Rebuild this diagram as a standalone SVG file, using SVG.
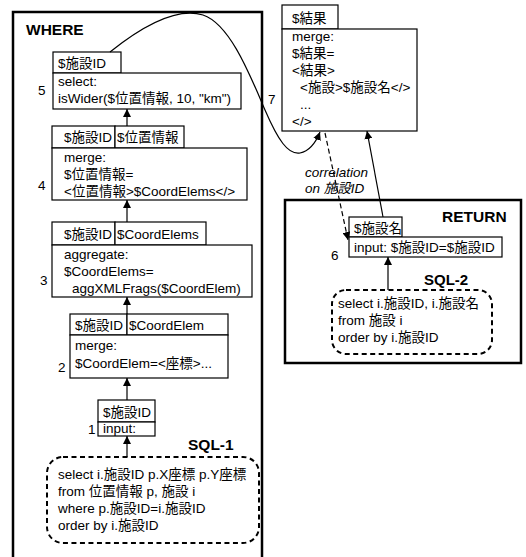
<svg xmlns="http://www.w3.org/2000/svg" width="526" height="557" viewBox="0 0 526 557">
<defs>
<style>
text{font-family:"Liberation Sans","Noto Sans CJK JP",Arial,sans-serif;font-size:13.5px;fill:#000}
.b{font-weight:bold;font-size:15.5px}
.i{font-style:italic}
.box{fill:#fff;stroke:#000;stroke-width:1.2}
.frame{fill:none;stroke:#000;stroke-width:2.5}
.dash{fill:none;stroke:#000;stroke-width:2;stroke-dasharray:5,3.5}
.ln{fill:none;stroke:#000;stroke-width:1.2}
</style>
<marker id="ah" viewBox="0 0 10 10" refX="10" refY="5" markerWidth="8" markerHeight="8" markerUnits="userSpaceOnUse" orient="auto">
<path d="M0,0 L10,5 L0,10 z" fill="#000"/>
</marker>
</defs>

<g id="frame-where">
<rect class="frame" x="13" y="12" width="249" height="560"/>
<text class="b" x="26" y="35">WHERE</text>
</g>

<g id="frame-return">
<rect class="frame" x="285" y="200" width="236" height="163"/>
<text class="b" x="442" y="222">RETURN</text>
</g>

<g id="node5">
<rect class="box" x="53" y="52" width="68" height="21"/>
<rect class="box" x="53" y="73" width="188" height="36"/>
<text x="58" y="68">$施設ID</text>
<text x="58" y="86">select:</text>
<text x="58" y="103">isWider($位置情報, 10, "km")</text>
<text x="38" y="95">5</text>
</g>

<g id="node4">
<rect class="box" x="52" y="126" width="63" height="22"/>
<rect class="box" x="115" y="126" width="69" height="22"/>
<rect class="box" x="52" y="148" width="195" height="52"/>
<text x="64" y="142">$施設ID</text>
<text x="117" y="142">$位置情報</text>
<text x="64" y="162">merge:</text>
<text x="64" y="179">$位置情報=</text>
<text x="64" y="196">&lt;位置情報&gt;$CoordElems&lt;/&gt;</text>
<text x="38" y="190">4</text>
</g>

<g id="node3">
<rect class="box" x="52" y="222" width="63" height="23"/>
<rect class="box" x="115" y="222" width="91" height="23"/>
<rect class="box" x="52" y="245" width="200" height="52"/>
<text x="64" y="239">$施設ID</text>
<text x="117" y="239">$CoordElems</text>
<text x="64" y="259">aggregate:</text>
<text x="64" y="276">$CoordElems=</text>
<text x="72" y="293">aggXMLFrags($CoordElem)</text>
<text x="40" y="285">3</text>
</g>

<g id="node2">
<rect class="box" x="70" y="314" width="57" height="21"/>
<rect class="box" x="127" y="314" width="101" height="21"/>
<rect class="box" x="70" y="335" width="158" height="43"/>
<text x="75" y="330">$施設ID</text>
<text x="129" y="330">$CoordElem</text>
<text x="75" y="350">merge:</text>
<text x="75" y="368">$CoordElem=&lt;座標&gt;...</text>
<text x="58" y="372">2</text>
</g>

<g id="node1">
<rect class="box" x="98" y="400" width="57" height="22"/>
<rect class="box" x="98" y="422" width="57" height="14"/>
<text x="103" y="417">$施設ID</text>
<text x="103" y="433">input:</text>
<text x="88" y="434">1</text>
</g>

<g id="sql1">
<text class="b" x="188" y="450">SQL-1</text>
<rect class="dash" x="47" y="457" width="212" height="86" rx="16"/>
<text x="58" y="479">select i.施設ID p.X座標 p.Y座標</text>
<text x="58" y="496">from 位置情報 p, 施設 i</text>
<text x="58" y="513">where p.施設ID=i.施設ID</text>
<text x="58" y="530">order by i.施設ID</text>
</g>

<g id="node7">
<rect class="box" x="282" y="5" width="56" height="24"/>
<rect class="box" x="282" y="29" width="135" height="102"/>
<text x="292" y="23">$結果</text>
<text x="292" y="41">merge:</text>
<text x="292" y="58">$結果=</text>
<text x="292" y="75">&lt;結果&gt;</text>
<text x="300" y="92">&lt;施設&gt;$施設名&lt;/&gt;</text>
<text x="300" y="109">...</text>
<text x="292" y="126">&lt;/&gt;</text>
<text x="268" y="104">7</text>
</g>

<g id="node6">
<rect class="box" x="349" y="217" width="53" height="20"/>
<rect class="box" x="349" y="237" width="153" height="20"/>
<text x="354" y="233">$施設名</text>
<text x="354" y="252">input: $施設ID=$施設ID</text>
<text x="331" y="260">6</text>
</g>

<g id="sql2">
<text class="b" x="424" y="285" style="font-size:15px">SQL-2</text>
<rect class="dash" x="332" y="290" width="160" height="64" rx="14"/>
<text x="338" y="308">select i.施設ID, i.施設名</text>
<text x="338" y="325">from 施設 i</text>
<text x="338" y="342">order by i.施設ID</text>
</g>

<g id="connectors">
<line class="ln" x1="127" y1="126" x2="127" y2="109" marker-end="url(#ah)"/>
<line class="ln" x1="127" y1="222" x2="127" y2="200" marker-end="url(#ah)"/>
<line class="ln" x1="127" y1="314" x2="127" y2="297" marker-end="url(#ah)"/>
<line class="ln" x1="127" y1="400" x2="127" y2="378" marker-end="url(#ah)"/>
<line class="ln" x1="127" y1="457" x2="127" y2="436" marker-end="url(#ah)"/>
<line class="ln" x1="388" y1="290" x2="388" y2="257" marker-end="url(#ah)"/>
<line class="ln" x1="383" y1="217" x2="367" y2="131" marker-end="url(#ah)"/>
<line class="ln" x1="325" y1="133" x2="348" y2="240" stroke-dasharray="5,3" marker-end="url(#ah)"/>
<path class="ln" d="M110,52 C150,20 180,8 203,15 C230,24 250,75 265,110 C278,140 288,155 300,153 C310,151 316,142 320,132" marker-end="url(#ah)"/>
<text class="i" x="305" y="177">correlation</text>
<text class="i" x="305" y="193">on 施設ID</text>
</g>
</svg>
